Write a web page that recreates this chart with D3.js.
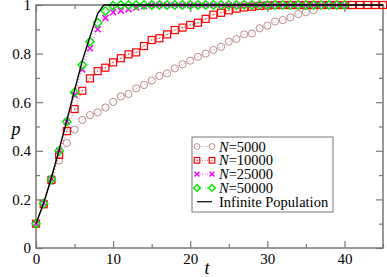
<!DOCTYPE html>
<meta charset="utf-8">
<script src="https://d3js.org/d3.v7.min.js"></script>
<style>
  body { margin: 0; background: #fff; }
</style>
<div id="my_dataviz"></div>
<script>

// data, one value per integer t starting at 0
var n5000 = [0.1, 0.18, 0.275, 0.36, 0.432, 0.487, 0.527, 0.547, 0.558, 0.578, 0.601, 0.624, 0.634, 0.657,
  0.671, 0.689, 0.708, 0.719, 0.739, 0.756, 0.771, 0.787, 0.80, 0.815, 0.828, 0.849, 0.86, 0.879, 0.883,
  0.904, 0.915, 0.932, 0.938, 0.949, 0.963, 0.970, 0.979]
var n10000 = [0.1, 0.18, 0.28, 0.383, 0.481, 0.572, 0.647, 0.698, 0.728, 0.742, 0.764, 0.781, 0.797, 0.805,
  0.831, 0.856, 0.863, 0.879, 0.897, 0.907, 0.918, 0.927, 0.943, 0.96, 0.968, 0.978, 0.985, 0.99, 0.993,
  0.996, 0.998, 1, 1, 1, 1, 1, 1, 1, 1, 1, 1, 1, 1, 1, 1, 1]
var n25000 = [0.1, 0.185, 0.285, 0.4, 0.52, 0.63, 0.735, 0.822, 0.9, 0.947, 0.97, 0.976, 0.983, 0.99, 0.995,
  1, 1, 1, 1, 1, 1, 1, 1, 1, 1, 1, 1, 1, 1, 1, 1, 1, 1, 1, 1, 1, 1, 1, 1, 1, 1]
var n50000 = [0.1, 0.183, 0.283, 0.4, 0.52, 0.64, 0.753, 0.849, 0.927, 0.975, 0.997,
  1, 1, 1, 1, 1, 1, 1, 1, 1, 1, 1, 1, 1, 1, 1, 1, 1, 1, 1, 1, 1, 1, 1, 1, 1, 1, 1, 1, 1, 1]
var infT = [0, 1, 2, 3, 4, 5, 6, 7, 8, 8.8, 45]
var infP = [0.1, 0.185, 0.29, 0.405, 0.525, 0.65, 0.77, 0.87, 0.965, 1, 1]

var xTicks = [0, 10, 20, 30, 40]
var yTicks = [0, 0.2, 0.4, 0.6, 0.8, 1]
var legendLabels = ["5000", "10000", "25000", "50000"]

var width = 387, height = 277
var margin = {left: 36, right: 4, top: 5, bottom: 29}

var svg = d3.select("#my_dataviz").append("svg")
  .attr("width", width).attr("height", height)

var x = d3.scaleLinear().domain([0, 45]).range([margin.left, width - margin.right])
var y = d3.scaleLinear().domain([0, 1]).range([height - margin.bottom, margin.top])

var axisColor = "#777"

// ticks pointing inward on all four sides
function styleAxis(g) {
  g.select(".domain").remove()
  g.selectAll(".tick line").attr("stroke", axisColor).attr("stroke-width", 1.2)
  g.selectAll("text").attr("fill", "#000").style("font-size", "15px")
}
svg.append("g").attr("transform", "translate(0," + y(0) + ")")
  .call(d3.axisBottom(x).tickValues(d3.range(0, 46, 5)).tickSizeInner(-4).tickSizeOuter(0).tickPadding(5)
    .tickFormat(function(d) { return xTicks.indexOf(d) >= 0 ? d : "" }))
  .call(styleAxis)
  .call(function(g) { g.selectAll(".tick").filter(function(d) { return d % 10 === 0 }).select("line").attr("y2", -7) })
svg.append("g").attr("transform", "translate(0," + y(1) + ")")
  .call(d3.axisTop(x).tickValues(d3.range(0, 46, 5)).tickSizeInner(-4).tickSizeOuter(0).tickFormat(""))
  .call(styleAxis)
  .call(function(g) { g.selectAll(".tick").filter(function(d) { return d % 10 === 0 }).select("line").attr("y2", 7) })
svg.append("g").attr("transform", "translate(" + x(0) + ",0)")
  .call(d3.axisLeft(y).tickValues(d3.range(0, 1.01, 0.1)).tickSizeInner(-4).tickSizeOuter(0).tickPadding(5)
    .tickFormat(function(d) { var r = Math.round(d * 10); return r % 2 === 0 ? d3.format("")(r / 10) : "" }))
  .call(styleAxis)
  .call(function(g) { g.selectAll(".tick").filter(function(d) { return Math.round(d * 10) % 2 === 0 }).select("line").attr("x2", 7) })
svg.append("g").attr("transform", "translate(" + x(45) + ",0)")
  .call(d3.axisRight(y).tickValues(d3.range(0, 1.01, 0.1)).tickSizeInner(-4).tickSizeOuter(0).tickFormat(""))
  .call(styleAxis)
  .call(function(g) { g.selectAll(".tick").filter(function(d) { return Math.round(d * 10) % 2 === 0 }).select("line").attr("x2", -7) })

// frame
svg.append("rect")
  .attr("x", x(0)).attr("y", y(1)).attr("width", x(45) - x(0)).attr("height", y(0) - y(1))
  .attr("fill", "none").attr("stroke", axisColor).attr("stroke-width", 1.5)

// axis labels
svg.append("text").attr("x", 16).attr("y", 135).attr("text-anchor", "middle")
  .style("font-style", "italic").style("font-size", "18px").text("p")
svg.append("text").attr("x", 207).attr("y", 274).attr("text-anchor", "middle")
  .style("font-style", "italic").style("font-size", "18px").text("t")

var series = [
  {vals: n5000, color: "#bc8f8f", shape: "circle"},
  {vals: n10000, color: "#ff0000", shape: "square"},
  {vals: n25000, color: "#ff00ff", shape: "cross"},
  {vals: n50000, color: "#00ee00", shape: "diamond"}
]

function drawMarker(g, shape, color, s) {
  if (shape === "circle") {
    g.append("circle").attr("r", 3.6 * s).attr("fill", "none").attr("stroke", color).attr("stroke-width", 1)
  } else if (shape === "square") {
    g.append("rect").attr("x", -3.5 * s).attr("y", -3.5 * s).attr("width", 7 * s).attr("height", 7 * s)
      .attr("fill", "none").attr("stroke", color).attr("stroke-width", 1.2)
    g.append("rect").attr("x", -0.5).attr("y", -0.5).attr("width", 1).attr("height", 1).attr("fill", color)
  } else if (shape === "cross") {
    var c = 3 * s
    g.append("path").attr("d", "M" + -c + "," + -c + "L" + c + "," + c + "M" + -c + "," + c + "L" + c + "," + -c)
      .attr("stroke", color).attr("stroke-width", 1.5)
  } else {
    var d = 4.2 * s
    g.append("path").attr("d", "M0," + -d + "L" + d + ",0L0," + d + "L" + -d + ",0Z")
      .attr("fill", "none").attr("stroke", color).attr("stroke-width", 1.4)
  }
}

var line = d3.line().x(function(d, i) { return x(i) }).y(function(d) { return y(d) })

series.forEach(function(s) {
  svg.append("path").datum(s.vals).attr("d", line)
    .attr("fill", "none").attr("stroke", s.color).attr("stroke-width", 1)
    .attr("stroke-dasharray", "1,2").attr("opacity", 0.7)
  svg.append("g").selectAll("g").data(s.vals).join("g")
    .attr("transform", function(d, i) { return "translate(" + x(i) + "," + y(d) + ")" })
    .each(function() { drawMarker(d3.select(this), s.shape, s.color, 1) })
})

// infinite population
svg.append("path").datum(infT.map(function(t, i) { return [t, infP[i]] }))
  .attr("d", d3.line().x(function(d) { return x(d[0]) }).y(function(d) { return y(d[1]) }))
  .attr("fill", "none").attr("stroke", "#000").attr("stroke-width", 1.4)

// legend
var lg = svg.append("g").attr("transform", "translate(192,137)")
lg.append("rect").attr("width", 141).attr("height", 75).attr("fill", "#fff")
  .attr("stroke", axisColor).attr("stroke-width", 1)
series.forEach(function(s, i) {
  var yy = 9.5 + i * 13.8
  lg.append("line").attr("x1", 5).attr("x2", 20).attr("y1", yy).attr("y2", yy)
    .attr("stroke", s.color).attr("stroke-dasharray", "1,1.5").attr("opacity", 0.7)
  drawMarker(lg.append("g").attr("transform", "translate(5," + yy + ")"), s.shape, s.color, 0.8)
  drawMarker(lg.append("g").attr("transform", "translate(20," + yy + ")"), s.shape, s.color, 0.8)
  var t = lg.append("text").attr("x", 27).attr("y", yy + 5).style("font-size", "14.5px")
  t.append("tspan").style("font-style", "italic").text("N")
  t.append("tspan").text("=" + legendLabels[i])
})
lg.append("line").attr("x1", 5).attr("x2", 20).attr("y1", 64.7).attr("y2", 64.7).attr("stroke", "#000").attr("stroke-width", 1.2)
lg.append("text").attr("x", 27).attr("y", 69.7).style("font-size", "14.5px").text("Infinite Population")

// serif everywhere
svg.selectAll("text").style("font-family", "Liberation Serif")

</script>
